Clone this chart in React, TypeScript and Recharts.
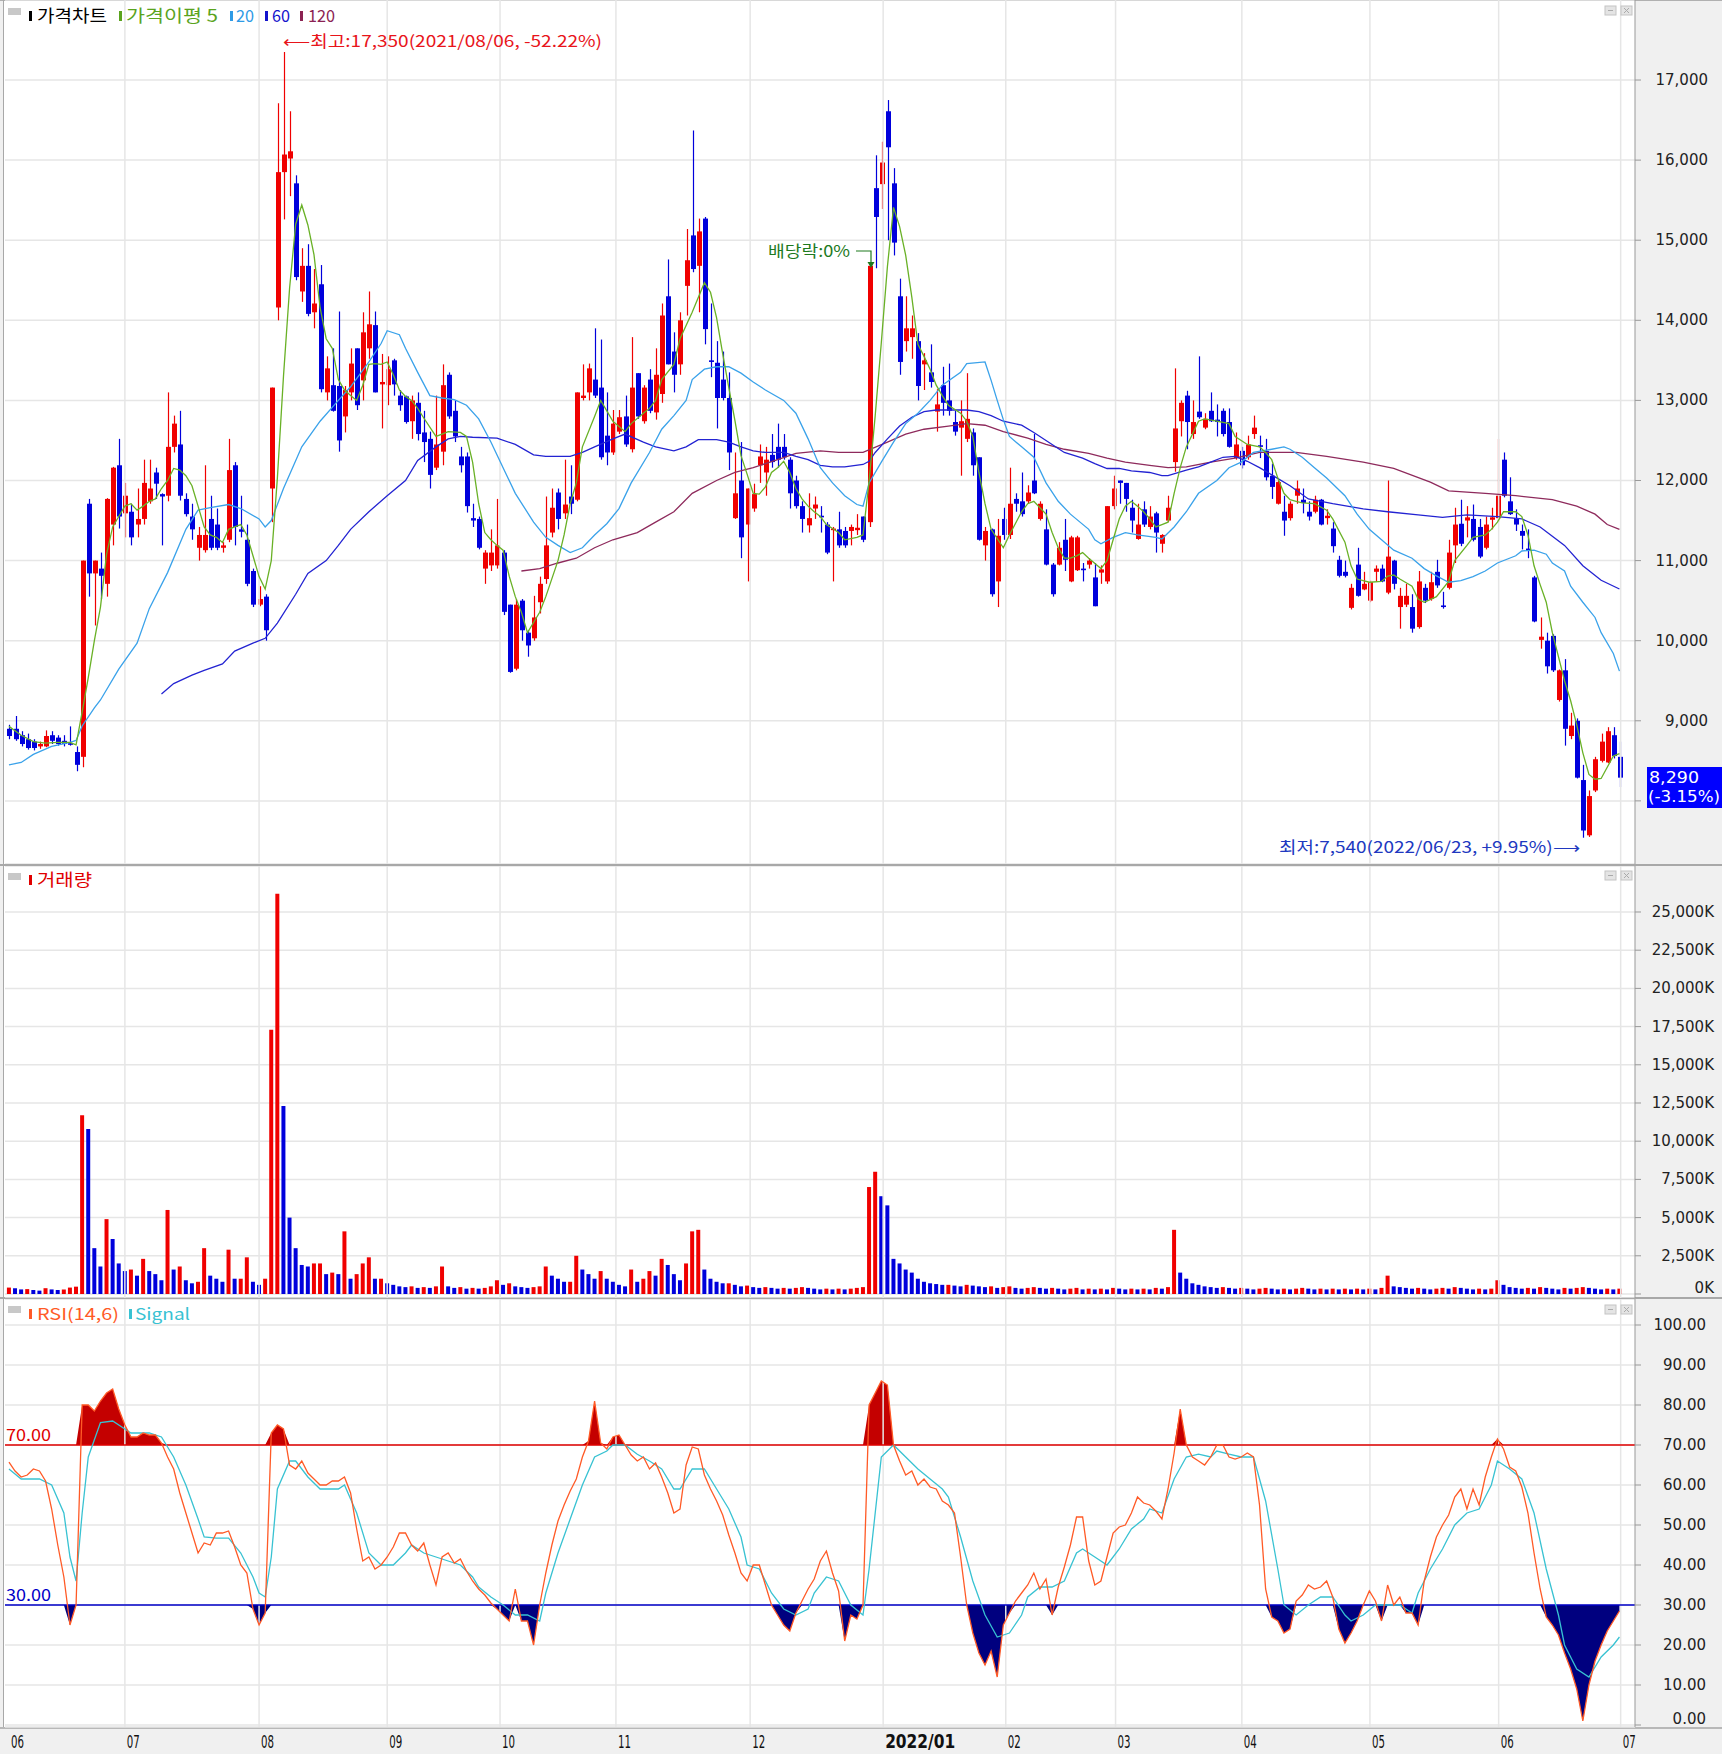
import React from "react";
import {
  ComposedChart,
  Bar,
  Line,
  Area,
  XAxis,
  YAxis,
  CartesianGrid,
  ReferenceLine,
  Cell,
} from "recharts";

// candles: [open, high, low, close], 2021-06 .. 2022-07-01
const CANDLES: [number, number, number, number][] = [
  [8900, 8950, 8770, 8810], [8900, 9060, 8750, 8770], [8820, 8870, 8680, 8710], [8770, 8840, 8640, 8660],
  [8740, 8770, 8630, 8660], [8680, 8740, 8650, 8710], [8680, 8880, 8670, 8810], [8820, 8870, 8710, 8750],
  [8790, 8820, 8690, 8710], [8750, 8820, 8680, 8710], [8720, 8930, 8690, 8700], [8610, 8680, 8370, 8450],
  [8550, 11000, 8420, 11000], [11710, 11770, 10550, 10840], [10840, 11000, 10190, 11000], [10900, 11100, 10520, 10810],
  [10710, 11780, 10550, 11770], [11450, 12170, 11190, 12160], [12190, 12520, 11400, 11550], [11590, 11970, 11290, 11810],
  [11610, 11710, 11190, 11290], [11450, 11900, 11290, 11520], [11520, 12260, 11450, 11970], [11740, 12260, 11710, 11900],
  [12100, 12160, 11770, 11960], [11830, 11840, 11190, 11800], [11810, 13100, 11740, 12420], [12420, 12810, 12350, 12710],
  [12450, 12870, 11750, 11810], [11770, 11840, 11550, 11580], [11550, 11710, 11260, 11390], [11160, 11420, 11000, 11320],
  [11130, 12190, 11100, 11320], [11520, 11810, 11130, 11160], [11450, 11650, 11130, 11160], [11160, 11230, 11100, 11190],
  [11260, 12520, 11230, 12130], [12190, 12230, 11190, 11420], [11390, 11810, 11290, 11360], [11260, 11450, 10680, 10710],
  [10870, 10900, 10420, 10450], [10450, 10680, 10430, 10520], [10550, 10580, 10000, 10130], [11900, 13160, 11480, 13160],
  [14160, 16710, 14000, 15850], [15850, 17350, 15260, 16070], [16020, 16610, 15550, 16110], [15710, 15810, 14500, 14540],
  [14360, 14900, 14230, 14680], [14680, 14950, 14050, 14080], [14100, 14640, 13900, 14210], [14450, 14690, 13100, 13140],
  [13100, 13550, 13000, 13400], [13190, 13650, 12860, 12870], [13180, 14110, 12360, 12500], [12800, 13180, 12600, 13130],
  [13100, 13650, 13000, 13460], [13650, 13650, 12880, 12940], [13250, 14100, 13000, 13850], [13650, 14360, 13520, 13950],
  [13940, 14110, 13100, 13100], [13200, 13580, 12650, 13230], [13190, 13550, 12940, 13390], [13500, 13520, 13060, 13200],
  [13060, 13130, 12870, 12940], [13050, 13060, 12710, 12730], [12740, 13060, 12520, 13000], [12970, 13100, 12500, 12580],
  [12600, 12870, 12230, 12480], [12520, 12610, 11900, 12070], [12160, 13060, 12130, 12450], [12360, 13450, 12190, 13190],
  [13320, 13350, 12770, 12800], [12870, 13000, 12480, 12550], [12300, 12420, 12100, 12190], [12300, 12350, 11600, 11680],
  [11530, 11710, 11420, 11500], [11520, 11550, 11140, 11160], [10900, 11130, 10710, 11100], [10940, 11390, 10870, 11100],
  [10940, 11770, 10900, 11190], [11100, 11130, 10320, 10360], [10450, 10450, 9600, 9610], [9650, 10520, 9630, 10450],
  [10500, 10520, 10000, 10130], [10100, 10130, 9800, 9940], [10030, 10560, 10000, 10290], [10480, 10800, 10340, 10710],
  [10770, 11800, 10710, 11190], [11350, 11900, 11290, 11660], [11850, 11900, 11390, 11520], [11590, 12260, 11520, 11700],
  [11800, 12190, 11580, 11710], [11760, 13100, 11740, 13100], [13030, 13450, 13000, 13060], [13100, 13460, 13000, 13400],
  [13260, 13900, 13030, 13060], [13160, 13760, 12260, 12290], [12560, 13100, 12190, 12350], [12350, 12880, 12320, 12710],
  [12610, 12880, 12580, 12790], [12800, 13060, 12420, 12450], [12390, 13790, 12350, 13160], [13340, 13340, 12770, 12800],
  [12740, 13190, 12710, 13160], [13260, 13390, 12840, 12870], [12850, 13650, 12760, 13320], [13080, 14210, 12970, 14060],
  [14300, 14760, 13450, 13450], [13610, 13850, 13100, 13320], [13450, 14100, 13320, 14000], [14430, 15140, 14060, 14750],
  [15060, 16370, 14600, 14640], [14680, 15270, 14100, 15110], [15270, 15290, 13700, 13890], [13500, 14210, 13290, 13480],
  [13470, 13740, 12650, 13030], [13260, 13610, 13000, 13030], [13030, 13350, 12130, 12350], [11530, 12350, 11520, 11840],
  [12000, 12480, 11030, 11290], [11450, 11900, 10740, 11900], [11650, 11960, 11610, 11830], [12190, 12450, 11970, 12300],
  [12100, 12420, 11810, 12260], [12320, 12580, 12160, 12230], [12420, 12710, 12160, 12260], [12420, 12580, 12260, 12290],
  [12260, 12290, 11650, 11840], [12000, 12060, 11650, 11680], [11680, 11740, 11350, 11520], [11440, 11840, 11350, 11530],
  [11650, 11800, 11520, 11700], [11560, 11680, 11350, 11540], [11450, 11480, 11080, 11100], [11380, 11420, 10740, 11400],
  [11390, 11610, 11160, 11190], [11370, 11420, 11160, 11190], [11370, 11450, 11190, 11420], [11380, 11580, 11320, 11410],
  [11550, 11550, 11230, 11260], [11480, 14680, 11420, 14680], [15650, 16060, 14650, 15290], [15700, 16230, 15390, 15970],
  [16610, 16750, 15000, 16160], [15710, 15900, 14810, 14970], [14300, 14520, 13320, 13480], [13740, 14300, 13610, 13900],
  [13790, 14060, 13520, 13900], [13740, 13840, 13000, 13180], [13450, 13590, 13130, 13500], [13350, 13700, 13160, 13230],
  [12860, 13140, 12610, 12950], [13190, 13420, 12810, 12970], [13000, 13460, 12810, 12870], [12730, 12870, 12560, 12610],
  [12660, 13000, 12060, 12740], [12520, 13340, 12480, 12770], [12600, 12650, 12060, 12190], [12290, 12290, 11250, 11260],
  [11190, 11420, 11000, 11370], [11390, 11400, 10550, 10580], [10740, 11520, 10420, 11310], [11520, 11660, 11260, 11320],
  [11320, 12160, 11270, 11710], [11770, 11840, 11610, 11710], [11740, 12100, 11550, 11580], [11740, 11940, 11710, 11850],
  [12000, 12580, 11830, 11840], [11520, 11740, 11500, 11710], [11390, 11640, 10940, 10950], [10950, 10970, 10550, 10580],
  [10950, 11230, 10940, 11160], [11260, 11520, 10870, 11010], [10740, 11310, 10730, 11290], [10880, 11310, 10870, 11290],
  [10900, 10970, 10740, 10880], [10950, 11030, 10900, 11000], [10790, 10970, 10430, 10430], [10850, 10940, 10710, 10890],
  [10740, 11680, 10710, 11680], [11680, 12060, 11640, 11900], [12000, 12000, 11710, 11970], [11970, 11970, 11610, 11770],
  [11660, 11760, 11350, 11500], [11270, 11710, 11260, 11450], [11640, 11740, 11420, 11450], [11420, 11680, 11390, 11550],
  [11590, 11610, 11100, 11350], [11210, 11330, 11100, 11320], [11500, 11810, 11480, 11660], [12230, 13400, 12110, 12650],
  [12740, 13000, 12550, 12970], [13060, 13120, 12390, 12730], [12580, 13000, 12520, 12730], [12860, 13550, 12770, 12790],
  [12660, 12840, 12640, 12770], [12870, 13100, 12730, 12740], [12760, 12950, 12550, 12730], [12870, 12900, 12550, 12580],
  [12730, 12900, 12410, 12420], [12280, 12600, 12260, 12450], [12370, 12420, 12150, 12190], [12290, 12560, 12260, 12450],
  [12580, 12810, 12520, 12660], [12440, 12560, 12280, 12420], [12370, 12520, 12000, 12040], [12060, 12210, 11770, 11920],
  [11710, 12000, 11700, 11980], [11610, 11810, 11310, 11500], [11530, 11740, 11500, 11710], [11810, 12000, 11710, 11900],
  [11760, 11900, 11590, 11720], [11610, 11740, 11500, 11550], [11610, 11810, 11590, 11760], [11760, 11770, 11440, 11450],
  [11530, 11640, 11450, 11560], [11400, 11480, 11100, 11180], [11010, 11060, 10790, 10810], [10860, 11000, 10790, 10810],
  [10410, 10710, 10390, 10660], [10950, 11160, 10550, 10560], [10640, 10860, 10630, 10710], [10500, 10750, 10480, 10730],
  [10860, 10940, 10740, 10900], [10900, 10950, 10730, 10740], [10600, 12000, 10580, 11050], [11000, 11010, 10640, 10710],
  [10420, 10660, 10150, 10560], [10450, 10710, 10420, 10560], [10420, 10580, 10100, 10150], [10170, 10870, 10150, 10740],
  [10660, 10710, 10470, 10500], [10520, 10860, 10500, 10730], [10860, 11010, 10660, 10690], [10440, 10610, 10400, 10420],
  [10660, 11260, 10640, 11100], [11190, 11660, 10970, 11450], [11460, 11760, 11180, 11210], [11500, 11680, 11290, 11540],
  [11520, 11700, 11240, 11260], [11420, 11520, 11030, 11050], [11160, 11550, 11140, 11450], [11510, 11660, 11390, 11540],
  [11530, 12520, 11480, 11810], [12260, 12350, 11790, 11810], [11740, 12040, 11570, 11580], [11530, 11640, 11370, 11450],
  [11370, 11450, 11140, 11310], [11150, 11390, 11030, 11120], [10790, 10810, 10230, 10240], [10010, 10290, 9900, 10050],
  [10000, 10100, 9590, 9680], [10060, 10080, 9610, 9630], [9260, 9640, 9240, 9630], [9630, 9770, 8690, 8900],
  [8810, 9100, 8770, 8940], [9000, 9030, 8280, 8290], [8260, 8450, 7540, 7630], [7570, 8130, 7550, 8060],
  [8130, 8550, 8110, 8520], [8500, 8840, 8480, 8740], [8480, 8920, 8470, 8870], [8820, 8920, 8530, 8560],
  [8550, 8740, 8170, 8290],
];

// volume, thousands of shares
const VOLUME = [
  420, 380, 300, 320, 260, 220, 380, 300, 260, 300, 420, 480,
  11700, 10800, 3000, 1800, 4900, 3600, 2000, 1500, 1600, 1200, 2300, 1500, 1300, 900, 5500, 1600, 1800, 900,
  700, 800, 3000, 1200, 1000, 800, 2900, 1000, 1000, 2400, 800, 600, 1000, 17300, 26200, 12300, 5000, 3000, 1900, 1800,
  2000, 2000, 1300, 1400, 1300, 4100, 1000, 1300, 2000, 2400, 1000, 1000, 700, 600, 500, 450, 500, 400, 450, 400,
  500, 1800, 500, 400, 450, 350, 400, 350, 400, 500, 900, 600, 700, 500, 450, 400, 450, 500, 1800, 1200,
  1000, 800, 800, 2500, 1600, 1300, 1000, 1500, 1000, 800, 600, 500, 1600, 800, 1000, 1500, 1200, 2300, 1900, 1300,
  900, 2000, 4100, 4200, 1600, 1000, 800, 700, 700,
  600, 500, 550, 450, 400, 450, 400, 350, 400, 350, 400, 450, 400, 350, 300, 350, 300, 350, 300, 350, 400, 450,
  7000, 8000, 6400, 5800, 2300, 2000, 1600, 1400, 1000, 800,
  700, 650, 600, 600, 550, 500, 600, 550, 500, 450, 500, 400, 450, 500, 400, 350, 400, 450, 400, 350,
  400, 350, 300, 350, 400, 300, 350, 300, 350, 300, 400, 350, 300, 350, 300, 350, 300, 400, 350, 450,
  4200, 1400, 1000, 700, 600,
  500, 450, 400, 450, 400, 350, 400, 350, 300, 350, 400, 350, 300, 350, 300, 350, 400, 350, 300, 350,
  300, 350, 300, 350, 300, 350, 300, 350, 300, 400,
  1200,
  500, 450, 400, 350, 400, 350, 300, 350, 400, 350, 450, 400, 350, 300, 350, 300, 350,
  900, 600,
  450, 400, 350, 400, 350, 450, 400, 350, 300, 400, 350, 400, 450, 400, 350, 300, 350, 300, 350,
];

const RSI = [
  65.7, 63.5, 62, 62.5, 64, 63.5, 61, 54, 45, 37,
  25, 30, 80, 80, 78.5, 81, 83, 84, 79, 75,
  72, 72, 73, 72.5, 72.5, 70.5, 67, 64, 58, 53,
  48, 43, 45.5, 45, 48, 48, 48.5, 44.5, 40, 38,
  29, 25, 28, 73, 75, 74, 65, 64, 66, 63,
  61.5, 60, 60, 61, 61, 62, 58, 49, 41, 42,
  39, 40, 42, 44.5, 48, 48, 45, 43.5, 45.5, 40,
  35, 42, 43, 40.5, 41.5, 38.5, 36, 34, 32.5, 30.5,
  29, 27.5, 26, 34, 26, 26, 20, 30, 38, 45,
  51, 55, 58.5, 61.5, 67, 71, 81, 70.5, 69, 72,
  72.5, 70, 67.5, 66, 67, 64, 65.5, 62, 58, 53,
  54, 65, 69.5, 69, 62.5, 59, 56, 52.5, 47.5, 43,
  38, 36, 40, 40, 35, 30, 27.5, 25, 23.5, 28,
  31, 34, 36.5, 41, 43.5, 38, 33.5, 21, 27.5, 26.5,
  30, 80, 83, 86, 85, 70, 66, 62.5, 63.5, 60,
  61.5, 59.5, 59, 56, 55, 53, 42, 30, 23, 18,
  15, 18.5, 12, 25, 28, 31, 33, 35, 38, 34,
  36.5, 27.5, 34.5, 39.5, 45, 52, 52, 41, 35, 36,
  42, 48, 49.5, 50, 53, 57, 55.5, 55, 53.5, 51.5,
  59, 68, 79, 70, 67, 66, 65, 67, 70, 70,
  67, 66.5, 67, 68, 67, 55, 34, 27, 26, 23,
  24, 31, 32.5, 35, 34, 34.5, 36, 32, 24, 20.5,
  23, 26, 30, 33.5, 31, 26, 35, 30, 32, 28,
  28, 25, 36, 42, 47, 50, 52.5, 57, 59, 54,
  59, 55, 62, 67, 71.5, 69, 64.5, 63.5, 59.5, 53,
  43, 34, 27, 25, 22.5, 18, 14, 9, 1, 10,
  16, 20, 23.5, 26, 28.5,
];

// [candle index, value]
const SIGNAL: [number, number][] = [
  [0, 64], [2, 61.5], [5, 61.5], [7, 60], [9, 53], [10, 42], [11, 36], [12, 53], [13, 67], [15, 75.6],
  [17, 76], [19, 74], [20, 73], [23, 73], [25, 72], [27, 67], [29, 60], [31, 51.5], [32, 47], [34, 46.7],
  [36, 46.7], [38, 43], [40, 37], [41, 33], [42, 32], [43, 42], [44, 59], [46, 66], [47, 66], [49, 62],
  [51, 59], [54, 59], [55, 60], [57, 53], [59, 43], [61, 40], [63, 40], [65, 43], [66, 45], [68, 43],
  [70, 42], [72, 41], [74, 40], [76, 37], [77, 34.5], [79, 32], [81, 30], [83, 27.5], [85, 27.5], [87, 26],
  [88, 33], [90, 43], [92, 51.5], [94, 60], [96, 67], [98, 68.5], [99, 70], [101, 70], [103, 67.7], [105, 66],
  [107, 64], [109, 59], [110, 59], [112, 64], [114, 64], [116, 59], [118, 54], [120, 47], [121, 40], [123, 39],
  [125, 33], [127, 29], [129, 27.5], [131, 29], [132, 33], [134, 37], [136, 36], [138, 30], [140, 27.5], [141, 39],
  [143, 67], [145, 70], [147, 67], [149, 64], [151, 61.5], [153, 59], [154, 57], [156, 47], [158, 36], [160, 27.5],
  [162, 22], [164, 23], [166, 27.5], [167, 32], [169, 34.5], [171, 34.5], [173, 36], [175, 43], [176, 44], [178, 42],
  [180, 40], [182, 44], [184, 49], [186, 51.5], [187, 54], [189, 53], [191, 61.5], [193, 67], [195, 67.7], [197, 67],
  [198, 68.5], [200, 67.7], [202, 67], [204, 67], [206, 56], [208, 39], [209, 30], [211, 27.5], [213, 30], [215, 32],
  [217, 32], [219, 27.5], [220, 26], [222, 27.5], [224, 30], [226, 30], [228, 30], [230, 28], [231, 33], [233, 39],
  [235, 44], [237, 50], [239, 53], [241, 54], [243, 60], [244, 66], [246, 64], [248, 61.5], [250, 53], [252, 39],
  [254, 27.5], [255, 20], [257, 14], [259, 12], [261, 17], [263, 20], [264, 22],
];

const MA5: [number, number][] = [
  [0, 8930], [2, 8820], [4, 8740], [6, 8720], [8, 8730], [10, 8730], [11, 8700], [12, 9110], [13, 9540], [14, 10000],
  [15, 10420], [16, 11080], [17, 11420], [18, 11550], [19, 11680], [20, 11710], [21, 11630], [22, 11680], [23, 11740], [24, 11770],
  [25, 11900], [26, 12000], [27, 12150], [28, 12130], [29, 12060], [30, 11935], [31, 11680], [32, 11420], [33, 11320], [34, 11290],
  [35, 11225], [36, 11390], [37, 11420], [38, 11450], [39, 11320], [40, 11060], [41, 10800], [42, 10645], [43, 11000], [44, 12030],
  [45, 13300], [46, 14400], [47, 15200], [48, 15440], [49, 15190], [50, 14820], [51, 14160], [52, 13770], [53, 13650], [54, 13260],
  [55, 13130], [56, 13060], [57, 13000], [58, 13190], [59, 13450], [60, 13460], [61, 13450], [62, 13480], [63, 13320], [64, 13130],
  [65, 13050], [66, 13000], [67, 12900], [68, 12780], [70, 12550], [71, 12580], [72, 12610], [74, 12600], [75, 12550], [76, 12230],
  [77, 11710], [78, 11350], [79, 11260], [80, 11190], [81, 11130], [82, 10806], [83, 10550], [84, 10355], [85, 10100], [87, 10355],
  [88, 10550], [90, 11000], [91, 11320], [92, 11710], [93, 11970], [94, 12420], [96, 12800], [97, 13000], [98, 12870], [99, 12740],
  [101, 12610], [102, 12710], [104, 12840], [105, 12900], [106, 13000], [107, 13260], [109, 13450], [110, 13770], [111, 13935], [112, 14100],
  [114, 14470], [115, 14350], [116, 14030], [117, 13580], [118, 13160], [119, 12750], [120, 12310], [121, 12080], [122, 11840], [123, 11830],
  [124, 11920], [125, 12100], [126, 12160], [127, 12240], [128, 12100], [129, 11900], [130, 11770], [131, 11680], [132, 11610], [133, 11550],
  [134, 11450], [136, 11350], [137, 11260], [139, 11290], [140, 11320], [141, 11990], [142, 12810], [143, 13720], [144, 14670], [145, 15410],
  [146, 15170], [147, 14810], [148, 14290], [149, 13700], [150, 13550], [151, 13390], [152, 13190], [153, 13060], [154, 12940], [156, 12840],
  [157, 12740], [158, 12550], [159, 12100], [160, 11710], [161, 11390], [163, 11160], [164, 11320], [166, 11610], [167, 11710], [168, 11740],
  [170, 11580], [171, 11350], [172, 11160], [173, 11030], [174, 11030], [175, 11060], [176, 11100], [177, 11030], [179, 10900], [180, 11000],
  [181, 11260], [182, 11520], [183, 11680], [184, 11740], [185, 11680], [186, 11610], [187, 11520], [188, 11420], [189, 11450], [190, 11480],
  [191, 11840], [192, 12160], [193, 12420], [195, 12740], [196, 12770], [198, 12740], [200, 12710], [201, 12550], [203, 12450], [205, 12420],
  [206, 12350], [207, 12260], [208, 12030], [209, 11840], [210, 11760], [211, 11740], [212, 11720], [214, 11710], [216, 11630], [217, 11520],
  [219, 11230], [220, 10935], [221, 10770], [223, 10730], [225, 10740], [226, 10806], [227, 10820], [228, 10770], [230, 10680], [231, 10520],
  [232, 10480], [234, 10550], [236, 10740], [237, 11000], [239, 11190], [240, 11290], [242, 11320], [243, 11390], [244, 11480], [245, 11610],
  [247, 11610], [248, 11550], [249, 11320], [250, 10935], [251, 10700], [252, 10480], [253, 10100], [254, 9800], [255, 9500], [256, 9250],
  [257, 8950], [258, 8600], [259, 8330], [260, 8270], [261, 8280], [262, 8420], [263, 8560], [264, 8590],
];

const MA20: [number, number][] = [
  [0, 8450], [2, 8480], [4, 8580], [7, 8680], [10, 8730], [11, 8755], [12, 8935], [14, 9160], [15, 9260], [18, 9645],
  [21, 9970], [23, 10400], [26, 10850], [29, 11390], [31, 11630], [33, 11660], [36, 11700], [38, 11650], [41, 11520], [42, 11420],
  [43, 11500], [45, 11900], [48, 12420], [51, 12740], [54, 13000], [56, 13170], [59, 13480], [61, 13710], [62, 13870], [64, 13820],
  [65, 13650], [67, 13350], [69, 13060], [71, 13030], [73, 13010], [75, 12940], [77, 12770], [79, 12480], [81, 12160], [83, 11840],
  [86, 11480], [88, 11290], [90, 11190], [92, 11100], [94, 11160], [96, 11320], [98, 11460], [100, 11650], [102, 11970], [105, 12350],
  [107, 12640], [109, 12810], [111, 13000], [112, 13260], [114, 13390], [116, 13420], [118, 13420], [120, 13340], [122, 13230], [124, 13130],
  [127, 13000], [129, 12840], [131, 12520], [133, 12160], [135, 11970], [137, 11810], [139, 11700], [140, 11680], [141, 11970], [143, 12230],
  [145, 12480], [147, 12710], [149, 12840], [151, 13000], [153, 13190], [156, 13350], [157, 13460], [160, 13480], [161, 13250], [162, 13000],
  [163, 12760], [164, 12550], [166, 12420], [168, 12290], [170, 11970], [172, 11740], [174, 11580], [177, 11390], [178, 11260], [179, 11210],
  [181, 11290], [183, 11350], [185, 11320], [188, 11290], [189, 11270], [191, 11420], [193, 11610], [195, 11840], [198, 12000], [200, 12160],
  [202, 12230], [204, 12350], [207, 12390], [209, 12420], [210, 12390], [212, 12290], [214, 12160], [216, 12030], [219, 11810], [221, 11580],
  [223, 11390], [225, 11260], [227, 11130], [230, 11030], [232, 10900], [234, 10810], [236, 10730], [238, 10750], [240, 10800], [242, 10870],
  [244, 10970], [247, 11060], [248, 11120], [250, 11130], [252, 11080], [253, 10970], [255, 10870], [256, 10680], [258, 10480], [260, 10290],
  [261, 10100], [263, 9840], [264, 9620],
];

const MA60: [number, number][] = [
  [25, 9335], [27, 9465], [30, 9570], [32, 9630], [35, 9710], [37, 9870], [40, 9970], [42, 10030], [44, 10220], [47, 10580],
  [49, 10840], [52, 11000], [54, 11190], [56, 11390], [59, 11610], [62, 11810], [65, 12000], [67, 12250], [70, 12420], [72, 12520],
  [74, 12550], [76, 12540], [80, 12530], [83, 12450], [86, 12320], [88, 12300], [92, 12300], [94, 12350], [96, 12420], [99, 12520],
  [101, 12580], [104, 12480], [106, 12420], [109, 12370], [111, 12420], [113, 12510], [116, 12510], [118, 12480], [120, 12420], [122, 12370],
  [124, 12350], [127, 12350], [129, 12300], [131, 12260], [133, 12190], [135, 12170], [137, 12170], [140, 12200], [141, 12240], [142, 12350],
  [144, 12520], [146, 12680], [148, 12790], [150, 12860], [152, 12880], [155, 12880], [157, 12880], [159, 12860], [161, 12810], [163, 12740],
  [166, 12690], [168, 12600], [171, 12450], [173, 12350], [176, 12280], [178, 12210], [180, 12150], [182, 12150], [184, 12120], [187, 12100],
  [189, 12060], [190, 12060], [193, 12130], [195, 12170], [197, 12230], [199, 12290], [201, 12300], [203, 12240], [205, 12160], [210, 11935],
  [213, 11770], [217, 11710], [222, 11645], [226, 11610], [231, 11570], [235, 11540], [239, 11570], [244, 11550], [248, 11520], [251, 11420],
  [255, 11190], [258, 10935], [261, 10755], [264, 10645],
];

const MA120: [number, number][] = [
  [84, 10870], [87, 10900], [90, 10970], [93, 11030], [96, 11160], [99, 11260], [103, 11350], [106, 11480], [109, 11610], [112, 11840],
  [116, 12000], [119, 12100], [122, 12160], [126, 12260], [129, 12340], [133, 12370], [136, 12350], [140, 12350], [144, 12480], [147, 12580],
  [150, 12640], [154, 12680], [157, 12710], [160, 12690], [163, 12610], [167, 12530], [170, 12450], [173, 12390], [177, 12340], [180, 12280],
  [183, 12230], [187, 12190], [190, 12160], [193, 12170], [197, 12230], [201, 12280], [205, 12350], [211, 12350], [216, 12300], [222, 12230],
  [227, 12150], [233, 11980], [236, 11870], [242, 11840], [247, 11810], [253, 11760], [257, 11680], [260, 11580], [262, 11450], [264, 11390],
];

const MONTHS: { i: number; label: string }[] = [
  { i: 0, label: "06" },
  { i: 19, label: "07" },
  { i: 41, label: "08" },
  { i: 62, label: "09" },
  { i: 80.5, label: "10" },
  { i: 99.5, label: "11" },
  { i: 121.5, label: "12" },
  { i: 143.3, label: "2022/01" },
  { i: 163.4, label: "02" },
  { i: 181.4, label: "03" },
  { i: 202.1, label: "04" },
  { i: 223.1, label: "05" },
  { i: 244.2, label: "06" },
  { i: 264.2, label: "07" },
];

const PRICE_TICKS = [8000, 9000, 10000, 11000, 12000, 13000, 14000, 15000, 16000, 17000];
const VOLUME_TICKS = [0, 2500, 5000, 7500, 10000, 12500, 15000, 17500, 20000, 22500, 25000];
const RSI_TICKS = [0, 10, 20, 30, 40, 50, 60, 70, 80, 90, 100];

const UP = "#f00000";
const DOWN = "#0000dc";
const GRID = "#e6e6e6";
const AXIS_FONT = "'DejaVu Sans', sans-serif";
const KR_FONT = "'Noto Sans CJK KR', sans-serif";
const X_DOMAIN: [number, number] = [-0.65, 266.55];
const W = 1722;
const AXIS_W = 87;

type Row = {
  i: number; o: number; h: number; l: number; c: number;
  vol: number; volUp: boolean; rsi: number; sig: number | null;
  ma5: number | null; ma20: number | null; ma60: number | null; ma120: number | null;
};

const rows: Row[] = CANDLES.map(([o, h, l, c], i) => ({
  i, o, h, l, c,
  vol: VOLUME[i] ?? 0,
  // volume bars are red when volume rose from the day before
  volUp: i === 0 || (VOLUME[i] ?? 0) >= (VOLUME[i - 1] ?? 0),
  rsi: RSI[i] ?? 50,
  sig: null, ma5: null, ma20: null, ma60: null, ma120: null,
}));
const put = (list: [number, number][], key: "sig" | "ma5" | "ma20" | "ma60" | "ma120") =>
  list.forEach(([i, v]) => {
    if (rows[i]) rows[i][key] = v;
  });
put(SIGNAL, "sig");
put(MA5, "ma5");
put(MA20, "ma20");
put(MA60, "ma60");
put(MA120, "ma120");

const monthLabel = (v: number) => MONTHS.find((m) => m.i === v)?.label ?? "";
const gridMonths = MONTHS.filter((m) => m.i > 0);

const Candle = (props: any) => {
  const { x, y, width, height, payload } = props;
  if (!payload || x == null || y == null) return <g />;
  const { o, h, l, c } = payload as Row;
  const color = c >= o ? UP : DOWN;
  let top = y;
  let hgt = height;
  if (hgt < 0) {
    top = y + hgt;
    hgt = -hgt;
  }
  const k = h > l ? hgt / (h - l) : 0;
  const bodyTop = top + (h - Math.max(o, c)) * k;
  const bodyH = Math.max(1.5, Math.abs(o - c) * k);
  const cx = Math.round(x + width / 2) + 0.5;
  return (
    <g>
      <line x1={cx} x2={cx} y1={top} y2={top + Math.max(hgt, 1)} stroke={color} strokeWidth={1.2} />
      <rect x={cx - 2.5} y={bodyTop} width={5} height={bodyH} fill={color} />
    </g>
  );
};

const axisText = (x: number, y: number, txt: string) => (
  <text x={x} y={y} dy={5} textAnchor="end" fontSize={15} fontFamily={AXIS_FONT} fill="#222">
    {txt}
  </text>
);

const PriceTick = ({ y, payload }: any) =>
  payload.value === 8000 ? <g /> : axisText(1708, y, Number(payload.value).toLocaleString("en-US"));
const VolumeTick = ({ y, payload }: any) =>
  axisText(1714, payload.value === 0 ? y - 6 : y, `${Number(payload.value).toLocaleString("en-US")}K`);
const RsiTick = ({ y, payload }: any) =>
  axisText(1706, payload.value === 0 ? y - 6 : y, Number(payload.value).toFixed(2));

const MonthTick = ({ x, y, payload }: any) => {
  const label = monthLabel(payload.value);
  const wide = label.length > 2;
  return (
    <text
      x={x + 2}
      y={y + 13}
      fontSize={wide ? 19 : 18}
      fontWeight={wide ? 700 : 400}
      fontFamily="'DejaVu Sans Condensed', 'DejaVu Sans', sans-serif"
      textLength={wide ? 70 : 13}
      lengthAdjust="spacingAndGlyphs"
      fill="#111"
    >
      {label}
    </text>
  );
};

const monthLines = () =>
  gridMonths.map((m) => (
    <ReferenceLine key={`m${m.i}`} x={m.i} stroke={GRID} strokeWidth={1.5} ifOverflow="hidden" />
  ));

function PriceChart() {
  return (
    <ComposedChart width={W} height={864} data={rows} margin={{ top: 0, right: 0, bottom: 0, left: 5 }}>
      <CartesianGrid stroke={GRID} strokeWidth={1.5} vertical={false} />
      <XAxis dataKey="i" type="number" domain={X_DOMAIN} allowDataOverflow hide ticks={gridMonths.map((m) => m.i)} />
      <YAxis
        orientation="right"
        width={AXIS_W}
        domain={[7212, 17999]}
        allowDataOverflow
        ticks={PRICE_TICKS}
        interval={0}
        tick={<PriceTick />}
        tickLine={{ stroke: "#999" }}
        axisLine={{ stroke: "#999" }}
      />
      {monthLines()}
      <Line dataKey="ma120" stroke="#8e2a5c" strokeWidth={1.3} dot={false} connectNulls isAnimationActive={false} />
      <Line dataKey="ma60" stroke="#2323d2" strokeWidth={1.3} dot={false} connectNulls isAnimationActive={false} />
      <Line dataKey="ma20" stroke="#3aa2ea" strokeWidth={1.3} dot={false} connectNulls isAnimationActive={false} />
      <Bar dataKey={(d: Row) => [d.l, d.h]} barSize={5} shape={(p: any) => <Candle {...p} />} isAnimationActive={false} />
      <Line dataKey="ma5" stroke="#69b126" strokeWidth={1.3} dot={false} connectNulls isAnimationActive={false} />
    </ComposedChart>
  );
}

function VolumeChart() {
  return (
    <ComposedChart width={W} height={432} data={rows} margin={{ top: 0, right: 0, bottom: 0, left: 5 }}>
      <CartesianGrid stroke={GRID} strokeWidth={1.5} vertical={false} />
      <XAxis dataKey="i" type="number" domain={X_DOMAIN} allowDataOverflow hide />
      <YAxis
        orientation="right"
        width={AXIS_W}
        domain={[-262, 28010]}
        allowDataOverflow
        ticks={VOLUME_TICKS}
        interval={0}
        tick={<VolumeTick />}
        tickLine={{ stroke: "#999" }}
        axisLine={{ stroke: "#999" }}
      />
      {monthLines()}
      <Bar dataKey="vol" barSize={4} isAnimationActive={false}>
        {rows.map((r) => (
          <Cell key={r.i} fill={r.volUp ? UP : DOWN} />
        ))}
      </Bar>
    </ComposedChart>
  );
}

function RsiChart() {
  return (
    <ComposedChart width={W} height={455} data={rows} margin={{ top: 0, right: 0, bottom: 0, left: 5 }}>
      <CartesianGrid stroke={GRID} strokeWidth={1.5} vertical={false} />
      <XAxis
        dataKey="i"
        type="number"
        domain={X_DOMAIN}
        allowDataOverflow
        height={27}
        ticks={MONTHS.map((m) => m.i)}
        interval={0}
        tick={<MonthTick />}
        tickLine={false}
        axisLine={false}
      />
      <YAxis
        orientation="right"
        width={AXIS_W}
        domain={[-0.5, 106.5]}
        allowDataOverflow
        ticks={RSI_TICKS}
        interval={0}
        tick={<RsiTick />}
        tickLine={{ stroke: "#999" }}
        axisLine={{ stroke: "#999" }}
      />
      {monthLines()}
      <Area
        dataKey={(d: Row) => [70, Math.max(70, d.rsi)]}
        type="linear"
        stroke="none"
        fill="#c40000"
        fillOpacity={1}
        dot={false}
        activeDot={false}
        isAnimationActive={false}
      />
      <Area
        dataKey={(d: Row) => [Math.min(30, d.rsi), 30]}
        type="linear"
        stroke="none"
        fill="#00007f"
        fillOpacity={1}
        dot={false}
        activeDot={false}
        isAnimationActive={false}
      />
      <ReferenceLine y={70} stroke="#e00000" strokeWidth={1.3} />
      <ReferenceLine y={30} stroke="#0000c8" strokeWidth={1.3} />
      <Line dataKey="sig" stroke="#38c2d2" strokeWidth={1.3} dot={false} connectNulls isAnimationActive={false} />
      <Line dataKey="rsi" stroke="#ff5a26" strokeWidth={1.3} dot={false} isAnimationActive={false} />
    </ComposedChart>
  );
}

const Swatch = ({ x, y, color }: { x: number; y: number; color: string }) => (
  <rect x={x} y={y} width={3} height={10} fill={color} />
);

const WinIcons = ({ y }: { y: number }) => (
  <g>
    <rect x={1605} y={y} width={11} height={9} fill="#e4e4e4" stroke="#c4c4c4" />
    <rect x={1621} y={y} width={11} height={9} fill="#e4e4e4" stroke="#c4c4c4" />
    <line x1={1608} x2={1613} y1={y + 4.5} y2={y + 4.5} stroke="#aaa" />
    <line x1={1624} x2={1629} y1={y + 2} y2={y + 7} stroke="#aaa" />
    <line x1={1629} x2={1624} y1={y + 2} y2={y + 7} stroke="#aaa" />
  </g>
);

function Overlay() {
  const t = (x: number, y: number, s: string, fill: string, len?: number, size = 17) => (
    <text
      x={x}
      y={y}
      fill={fill}
      fontSize={size}
      fontFamily={KR_FONT}
      textLength={len}
      lengthAdjust={len ? "spacingAndGlyphs" : undefined}
    >
      {s}
    </text>
  );
  return (
    <svg width={W} height={1754} style={{ position: "absolute", left: 0, top: 0, pointerEvents: "none" }}>
      {/* price header */}
      <rect x={8} y={8} width={13} height={7} fill="#c8c8c8" />
      <Swatch x={29} y={11} color="#000" />
      {t(37, 22, "가격차트", "#000", 70)}
      <Swatch x={119} y={11} color="#5aa31d" />
      {t(126, 22, "가격이평 5", "#5aa31d", 92)}
      <Swatch x={230} y={11} color="#2e9ae6" />
      {t(236, 22, "20", "#2e9ae6", 18)}
      <Swatch x={265} y={11} color="#1414cc" />
      {t(272, 22, "60", "#1414cc", 18)}
      <Swatch x={300} y={11} color="#8b2252" />
      {t(308, 22, "120", "#8b2252", 27)}
      <WinIcons y={6} />

      {t(283, 47, "⟵최고:17,350(2021/08/06, -52.22%)", "#e8141a", 319, 16)}
      {t(768, 257, "배당락:0%", "#1e7a1e", 82, 16)}
      <polyline points="856,251 871,251 871,263" fill="none" stroke="#1e7a1e" strokeWidth={1.2} />
      <polygon points="867.5,262 874.5,262 871,268" fill="#1e7a1e" />
      {t(1279, 853, "최저:7,540(2022/06/23, +9.95%)⟶", "#2038c0", 301, 16)}

      <rect x={1647} y={767} width={75} height={41} fill="#0000ff" />
      <text x={1649} y={783} fill="#fff" fontSize={15} fontFamily={AXIS_FONT} textLength={50} lengthAdjust="spacingAndGlyphs">
        8,290
      </text>
      <text x={1648} y={802} fill="#fff" fontSize={15} fontFamily={AXIS_FONT} textLength={72} lengthAdjust="spacingAndGlyphs">
        (-3.15%)
      </text>

      {/* volume header */}
      <rect x={8} y={873} width={13} height={7} fill="#c8c8c8" />
      <Swatch x={29} y={875} color="#e00000" />
      {t(37, 886, "거래량", "#e00000", 55)}
      <WinIcons y={871} />

      {/* rsi header */}
      <rect x={8} y={1306} width={13} height={7} fill="#c8c8c8" />
      <Swatch x={29} y={1309} color="#ff5a26" />
      {t(37, 1320, "RSI(14,6)", "#ff5a26", 82, 16)}
      <Swatch x={129} y={1309} color="#38c2d2" />
      {t(135, 1320, "Signal", "#38c2d2", 55, 16)}
      <WinIcons y={1305} />
      {t(6, 1441, "70.00", "#e00000", 45, 16)}
      {t(6, 1601, "30.00", "#0000c8", 45, 16)}
    </svg>
  );
}

export default function App() {
  return (
    <div
      style={{
        position: "relative",
        width: W,
        height: 1754,
        background: "#f0f0f0",
        overflow: "hidden",
        fontFamily: KR_FONT,
      }}
    >
      <style>{`body{margin:0}`}</style>
      {/* plot backgrounds and frame */}
      <div style={{ position: "absolute", left: 4, top: 1, width: 1631, height: 863, background: "#fff" }} />
      <div style={{ position: "absolute", left: 4, top: 866, width: 1631, height: 431, background: "#fff" }} />
      <div style={{ position: "absolute", left: 4, top: 1299, width: 1631, height: 428, background: "#fff" }} />
      <div style={{ position: "absolute", left: 0, top: 0, width: W, height: 1, background: "#b0b0b0" }} />
      <div style={{ position: "absolute", left: 3, top: 0, width: 1, height: 1727, background: "#a8a8a8" }} />
      <div style={{ position: "absolute", left: 0, top: 864, width: W, height: 2, background: "#a8a8a8" }} />
      <div style={{ position: "absolute", left: 0, top: 1297, width: W, height: 2, background: "#a8a8a8" }} />
      <div style={{ position: "absolute", left: 0, top: 1727, width: W, height: 2, background: "#b8b8b8" }} />

      <div style={{ position: "absolute", left: 0, top: 0 }}>
        <PriceChart />
      </div>
      <div style={{ position: "absolute", left: 0, top: 866 }}>
        <VolumeChart />
      </div>
      <div style={{ position: "absolute", left: 0, top: 1299 }}>
        <RsiChart />
      </div>
      <Overlay />
    </div>
  );
}
